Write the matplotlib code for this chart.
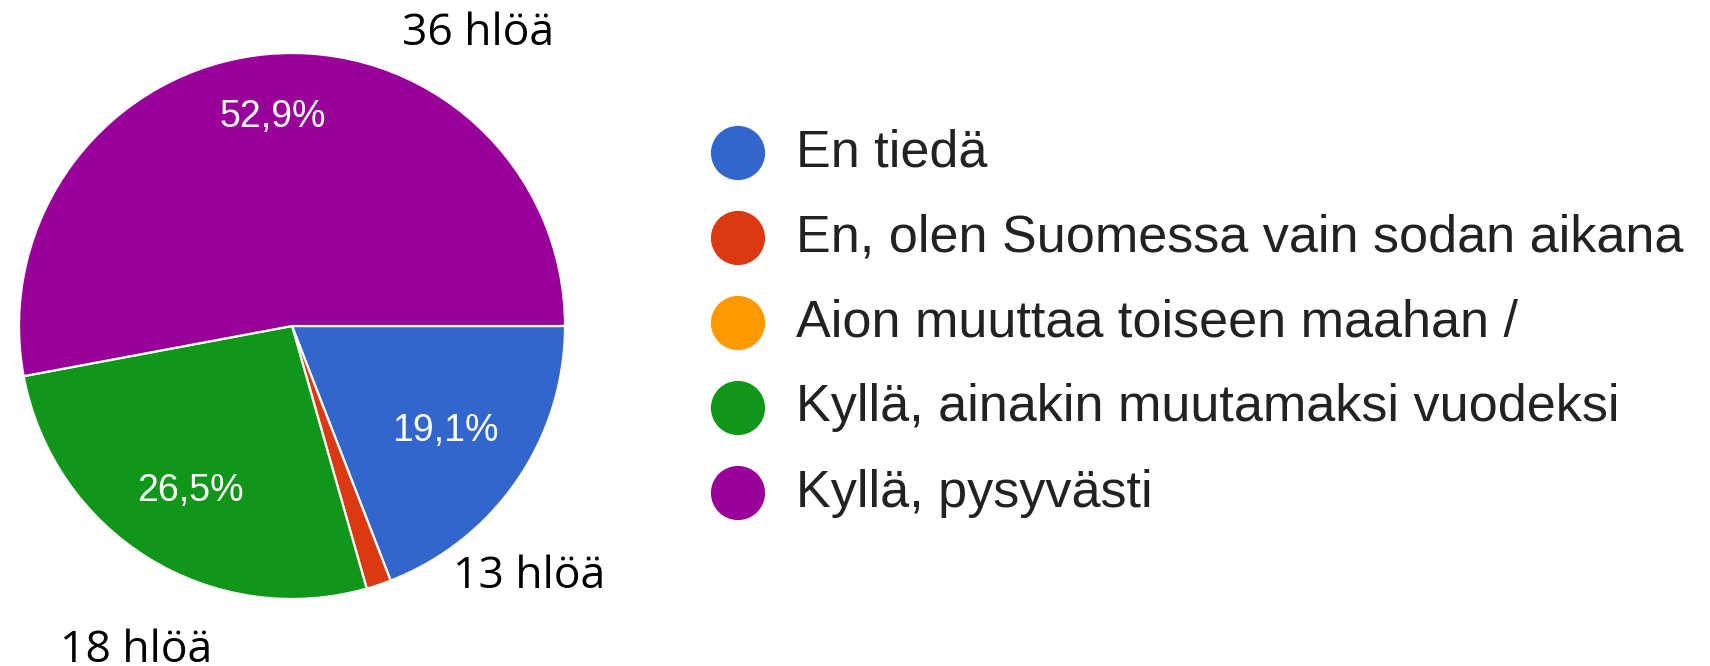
import matplotlib
matplotlib.use("Agg")
import matplotlib.pyplot as plt
import numpy as np

# survey answers (counts of respondents)
labels = [
    "En tiedä",
    "En, olen Suomessa vain sodan aikana",
    "Aion muuttaa toiseen maahan /",
    "Kyllä, ainakin muutamaksi vuodeksi",
    "Kyllä, pysyvästi",
]
counts = [13, 1, 0, 18, 36]
colors = ["#3366cc", "#dc3912", "#ff9900", "#109618", "#990099"]
count_labels = ["13 hlöä", "", "", "18 hlöä", "36 hlöä"]

W, H = 1710, 666
fig = plt.figure(figsize=(W / 100, H / 100), dpi=100)

# pie axes: center (292, 326) px, radius 273 px
cx, cy, r = 292, 326, 273
ax = fig.add_axes([(cx - r) / W, (H - cy - r) / H, 2 * r / W, 2 * r / H])

nz = [(c, col, lab) for c, col, lab in zip(counts, colors, count_labels) if c > 0]
wedges, _, autotexts = ax.pie(
    [c for c, _, _ in nz],
    colors=[col for _, col, _ in nz],
    startangle=0,
    counterclock=False,
    radius=1,
    autopct=lambda p: (f"{p:.1f}%".replace(".", ",")) if p > 3 else "",
    pctdistance=0.72,
    wedgeprops=dict(edgecolor="white", linewidth=1.6),
    textprops=dict(color="white", fontsize=27, family="Liberation Sans"),
)
# percent labels sit at slightly different radii, like google charts
pct_radius = [0.68, 0.72, 0.71, 0.77]
for w, t, rr in zip(wedges, autotexts, pct_radius):
    ang = np.deg2rad((w.theta1 + w.theta2) / 2)
    t.set_position((rr * np.cos(ang), rr * np.sin(ang)))

ax.set_xlim(-1, 1)
ax.set_ylim(-1, 1)
ax.set_aspect("equal")
ax.axis("off")

# outside count labels (offsets in pie-radius units)
label_pos = {"13 hlöä": (0.87, -0.92), "18 hlöä": (-0.57, -1.19), "36 hlöä": (0.68, 1.07)}
for _, _, lab in nz:
    if lab:
        x, y = label_pos[lab]
        ax.text(x, y, lab, ha="center", va="center", fontsize=32,
                family="Open Sans", color="black", clip_on=False)

# legend drawn by hand in pixel coordinates
lax = fig.add_axes([0, 0, 1, 1])
lax.set_xlim(0, W)
lax.set_ylim(H, 0)
lax.axis("off")
rows = 153 + 85 * np.arange(len(labels))
lax.scatter([738] * len(labels), rows, s=(39) ** 2, c=colors, edgecolors="none")
for yy, lab in zip(rows, labels):
    lax.text(796, yy, lab, ha="left", va="center", fontsize=37.5,
             family="Liberation Sans", color="#222222")

fig.savefig("out.png", dpi=100)
